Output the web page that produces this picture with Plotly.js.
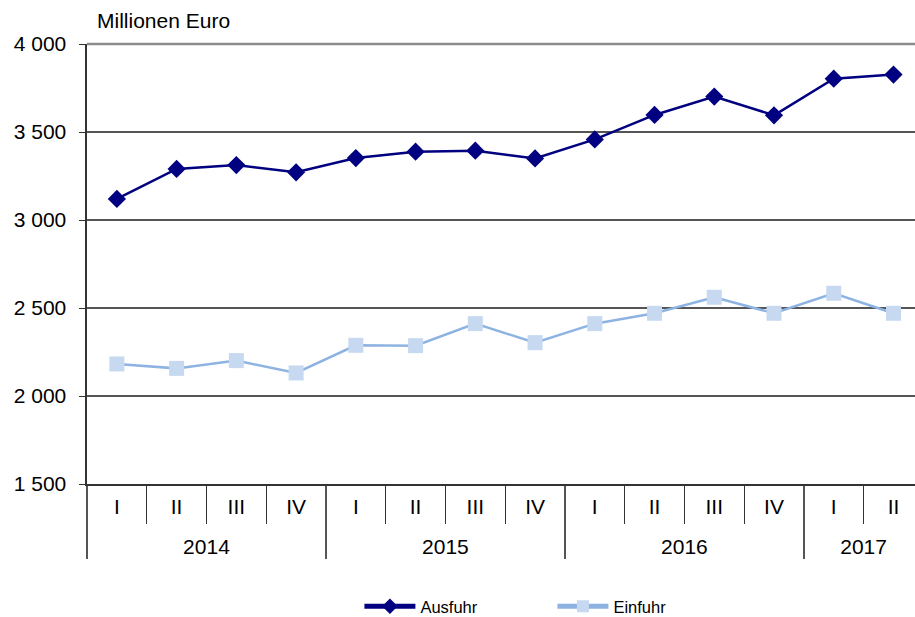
<!DOCTYPE html>
<html>
<head>
<meta charset="utf-8">
<script src="https://cdn.plot.ly/plotly-3.0.1.min.js"></script>
<style>html,body{margin:0;padding:0;background:#fff}#chart{width:915px;height:617px}</style>
</head>
<body>
<div id="chart"></div>
<script>
const years = ["2014","2014","2014","2014","2015","2015","2015","2015","2016","2016","2016","2016","2017","2017"];
const quarters = ["I","II","III","IV","I","II","III","IV","I","II","III","IV","I","II"];
const ausfuhr = [3120, 3290, 3312, 3271, 3352, 3388, 3394, 3350, 3458, 3597, 3701, 3595, 3803, 3826];
const einfuhr = [2182, 2157, 2201, 2131, 2288, 2286, 2411, 2303, 2411, 2470, 2561, 2470, 2584, 2470];
const yTicks = [1500, 2000, 2500, 3000, 3500, 4000];

// quarter labels get a spacer second line so the year row sits lower (spacer removed after layout)
const quarterLabels = quarters.map(q => q + "<br><sup>\u00a0</sup>");

const font = "Liberation Sans, Arial, sans-serif";
const traces = [
  {x:[years, quarterLabels], y:ausfuhr, name:"Ausfuhr", type:"scatter", mode:"lines+markers",
   line:{color:"#000080", width:2.5}, marker:{symbol:"diamond", size:14, color:"#000080"}},
  {x:[years, quarterLabels], y:einfuhr, name:"Einfuhr", type:"scatter", mode:"lines+markers",
   line:{color:"#8DB3E2", width:2.5}, marker:{symbol:"square", size:15, color:"#C6D9F1"}}
];
const layout = {
  width:915, height:617,
  margin:{l:87, r:0, t:44, b:133},
  paper_bgcolor:"#fff", plot_bgcolor:"#fff",
  separators:", ",
  font:{family:font, size:21, color:"#000"},
  showlegend:true,
  legend:{orientation:"h", x:0.329, xanchor:"left", yref:"container", y:0.017, yanchor:"middle", font:{size:16.5},
    itemwidth:51, itemsizing:"constant", entrywidth:127},
  annotations:[{text:"Millionen Euro", xref:"paper", yref:"paper", x:0.01, y:1.0, xanchor:"left", yanchor:"bottom", yshift:10, showarrow:false, font:{size:21}}],
  shapes:[{type:"line", xref:"paper", yref:"paper", x0:0, x1:1, y0:1, y1:1, line:{color:"#8c8c8c", width:2.5}}],
  xaxis:{type:"multicategory", range:[-0.5, 13.36], automargin:false, showline:true, linecolor:"#333", linewidth:2,
    ticks:"outside", tickson:"boundaries", ticklen:38, tickcolor:"#333", tickwidth:1, ticklabelstandoff:3,
    showdividers:true, dividercolor:"#555", dividerwidth:1.5, showgrid:false, tickfont:{size:21}},
  yaxis:{range:[1500, 4000], tickvals:yTicks, tickformat:",d", automargin:false, showline:true, linecolor:"#333", linewidth:2.5,
    ticks:"outside", ticklen:6, tickcolor:"#333", ticklabelstandoff:8, gridcolor:"#555", gridwidth:1.2, zeroline:false, tickfont:{size:21}}
};
Plotly.newPlot("chart", traces, layout, {displayModeBar:false, staticPlot:true}).then(gd => {
  gd.querySelectorAll(".xaxislayer-above text tspan.line").forEach(t => {
    if (t.textContent.replace(/[\s\u00a0\u200b]/g, "") === "") t.remove();
  });
});
</script>
</body>
</html>
